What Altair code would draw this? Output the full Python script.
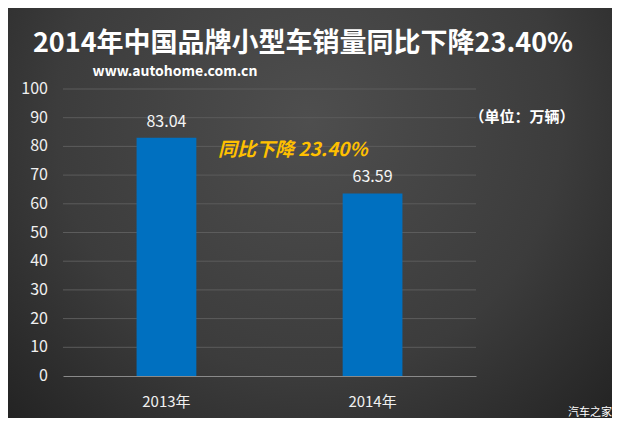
import altair as alt
import pandas as pd

years = ["2013年", "2014年"]
sales = [83.04, 63.59]
labels = ["83.04", "63.59"]
y_ticks = [0, 10, 20, 30, 40, 50, 60, 70, 80, 90, 100]

title_text = "2014年中国品牌小型车销量同比下降23.40%"
url_text = "www.autohome.com.cn"
unit_text = "（单位：万辆）"
note_text = "同比下降 23.40%"
mark_text_wm = "汽车之家"

W, H = 413, 287
FONT = "Noto Sans CJK SC"

df = pd.DataFrame({"year": years, "sales": sales, "label": labels})
grid_df = pd.DataFrame({"v": y_ticks[1:]})
tick_df = pd.DataFrame({"v": y_ticks, "lab": [str(v) for v in y_ticks]})
one = pd.DataFrame({"k": [0]})

bg = alt.Chart(one).mark_rect(
    clip=False,
    color=alt.Gradient(
        gradient="radial",
        x1=0.5, y1=0.35, r1=0.0,
        x2=0.5, y2=0.35, r2=0.75,
        stops=[
            alt.GradientStop(offset=0, color="#4e4e4e"),
            alt.GradientStop(offset=0.55, color="#3c3c3c"),
            alt.GradientStop(offset=1, color="#1e1e1e"),
        ],
    ),
).encode(
    x=alt.value(-60), x2=alt.value(W + 140),
    y=alt.value(-90), y2=alt.value(H + 50),
)

xs = alt.Scale(paddingInner=0.71, paddingOuter=0.357)
ys = alt.Scale(domain=[0, 100])

grid = alt.Chart(grid_df).mark_rule(color="#5c5c5c", strokeWidth=1).encode(
    y=alt.Y("v:Q", scale=ys, title=None, axis=None),
)

bars = alt.Chart(df).mark_bar(color="#0070c0").encode(
    x=alt.X("year:N", scale=xs, sort=years, title=None,
            axis=alt.Axis(labelAngle=0, labelPadding=18, ticks=False, zindex=1,
                          labelFontSize=15, labelColor="#f0f0f0",
                          labelFont=FONT, domainColor="#8a8a8a", domainWidth=1.2,
                          grid=False)),
    y=alt.Y("sales:Q", scale=ys, title=None, axis=None),
)

vals = alt.Chart(df).mark_text(dy=-16, fontSize=16, color="#f5f5f5", font=FONT).encode(
    x=alt.X("year:N", scale=xs, sort=years, title=None),
    y=alt.Y("sales:Q", scale=ys, title=None, axis=None),
    text="label:N",
)

ylabels = alt.Chart(tick_df).mark_text(
    align="right", baseline="middle", fontSize=16, color="#f0f0f0", font=FONT, clip=False
).encode(
    x=alt.value(-15),
    y=alt.Y("v:Q", scale=ys, title=None, axis=None),
    text="lab:N",
)

def txt(t, x, y, **kw):
    return alt.Chart(pd.DataFrame({"t": [t]})).mark_text(clip=False, font=FONT, **kw).encode(
        x=alt.value(x), y=alt.value(y), text="t:N")

title = txt(title_text, 240, -45, fontSize=27, fontWeight="bold", color="#ffffff")
url = txt(url_text, 112, -17, fontSize=14, fontWeight="bold", color="#ffffff")
unit = txt(unit_text, 459, 28, fontSize=15, fontWeight="bold", color="#ffffff")
note = txt(note_text, 155, 61, align="left", fontSize=19, fontWeight="bold",
           fontStyle="italic", color="#ffc000")
wm = txt(mark_text_wm, 527, 324, fontSize=11, color="#ffffff")

chart = alt.layer(bg, grid, bars, vals, ylabels, title, url, unit, note, wm).properties(
    width=W, height=H,
    autosize=alt.AutoSizeParams(type="none"),
    padding={"left": 55, "top": 81, "right": 136, "bottom": 42},
    background="#2b2b2b",
).configure_view(stroke=None)

chart.save("out.html", embed_options={"renderer": "svg", "actions": False})
